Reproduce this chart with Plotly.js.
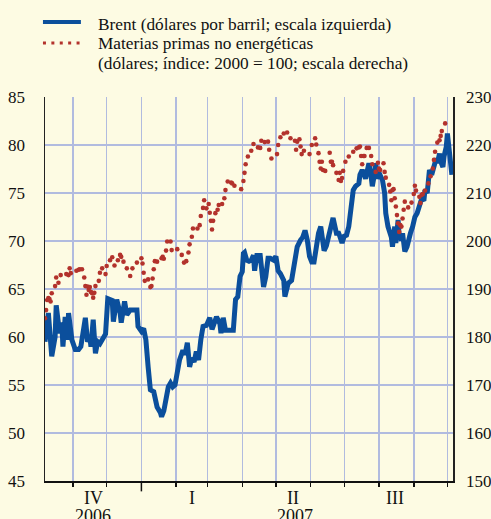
<!DOCTYPE html>
<html><head><meta charset="utf-8">
<script src="https://cdn.plot.ly/plotly-3.0.1.min.js"></script>
<style>html,body{margin:0;padding:0;background:#fdfbe3;}#chart{width:491px;height:519px;}</style>
</head><body><div id="chart"></div>
<script>
const brentDates = ['2006-10-07','2006-10-10','2006-10-13','2006-10-16','2006-10-17','2006-10-20','2006-10-22','2006-10-23','2006-10-25','2006-10-27','2006-10-28','2006-10-31',
'2006-11-03','2006-11-06','2006-11-08','2006-11-10','2006-11-12','2006-11-14','2006-11-16','2006-11-17','2006-11-19','2006-11-21','2006-11-23','2006-11-25','2006-11-28','2006-11-30',
'2006-12-02','2006-12-06','2006-12-07','2006-12-10','2006-12-13','2006-12-14','2006-12-17','2006-12-19','2006-12-22','2006-12-28','2006-12-29',
'2007-01-01','2007-01-03','2007-01-05','2007-01-07','2007-01-09','2007-01-12','2007-01-13','2007-01-15','2007-01-18','2007-01-19','2007-01-21','2007-01-23','2007-01-25','2007-01-27','2007-01-29','2007-01-31',
'2007-02-02','2007-02-04','2007-02-07','2007-02-09','2007-02-11','2007-02-13','2007-02-15','2007-02-17','2007-02-19','2007-02-21','2007-02-23','2007-02-25','2007-02-28',
'2007-03-03','2007-03-05','2007-03-07','2007-03-09','2007-03-12','2007-03-13','2007-03-15','2007-03-17','2007-03-20','2007-03-23','2007-03-24','2007-03-26','2007-03-28','2007-03-30',
'2007-04-01','2007-04-02','2007-04-03','2007-04-05','2007-04-07','2007-04-09','2007-04-11','2007-04-12','2007-04-14','2007-04-17','2007-04-18','2007-04-20','2007-04-22','2007-04-24','2007-04-26','2007-04-29',
'2007-05-01','2007-05-03','2007-05-05','2007-05-08','2007-05-09','2007-05-12','2007-05-15','2007-05-18','2007-05-20','2007-05-23','2007-05-25','2007-05-27','2007-05-29','2007-05-31',
'2007-06-02','2007-06-04','2007-06-06','2007-06-08','2007-06-10','2007-06-12','2007-06-13','2007-06-15','2007-06-18','2007-06-20','2007-06-21','2007-06-24','2007-06-26','2007-06-27','2007-06-29',
'2007-07-01','2007-07-03','2007-07-05','2007-07-06','2007-07-08','2007-07-09','2007-07-11','2007-07-14','2007-07-15','2007-07-17','2007-07-20','2007-07-22','2007-07-23','2007-07-25','2007-07-26','2007-07-28','2007-07-29','2007-07-30',
'2007-08-01','2007-08-03','2007-08-04','2007-08-06','2007-08-07','2007-08-09','2007-08-10','2007-08-12','2007-08-13','2007-08-15','2007-08-16','2007-08-18','2007-08-19','2007-08-21','2007-08-22','2007-08-24','2007-08-26','2007-08-27','2007-08-29','2007-08-31',
'2007-09-02','2007-09-04','2007-09-06','2007-09-08','2007-09-10','2007-09-11','2007-09-13','2007-09-14','2007-09-15','2007-09-17','2007-09-19','2007-09-21','2007-09-22','2007-09-24','2007-09-25','2007-09-27','2007-09-28','2007-09-30',
'2007-10-01','2007-10-03','2007-10-04','2007-10-05'];
const brentValues = [59.5,62.5,58.0,60.0,63.3,60.4,61.5,59.0,62.1,59.7,62.5,59.7,
58.7,58.7,59.0,60.7,62.0,59.5,60.0,59.0,61.8,58.3,59.5,59.3,60.0,60.3,
64.0,63.8,61.6,63.9,62.5,61.5,63.7,62.3,62.8,62.8,61.1,
60.6,60.9,59.7,56.9,54.5,54.3,53.6,52.7,52.1,51.7,52.3,53.4,54.8,55.2,54.8,55.0,
56.6,57.6,58.6,58.2,59.4,56.9,57.8,57.4,58.5,57.6,59.7,61.1,61.2,
62.0,60.8,61.5,62.1,61.4,60.4,62.0,60.7,60.7,60.6,60.7,63.9,64.2,66.3,
66.8,68.7,68.8,68.0,67.9,68.0,68.5,66.9,68.5,68.5,67.3,65.2,66.3,68.2,68.2,68.0,
68.4,66.9,66.6,65.9,64.2,65.6,65.9,68.0,69.4,70.1,70.4,71.1,70.1,68.4,
67.8,67.8,69.8,70.8,71.5,69.1,69.0,69.5,71.1,71.8,72.4,70.8,70.8,70.5,69.8,
70.5,70.6,71.5,72.7,74.3,75.3,75.7,76.0,76.9,77.4,76.5,77.7,78.1,76.7,75.7,77.0,78.1,76.5,
77.1,76.6,76.4,75.0,72.9,71.5,71.2,70.4,69.4,71.5,69.8,72.2,70.5,70.1,70.8,68.9,69.4,70.1,70.8,71.5,
72.5,72.9,73.6,74.4,74.2,75.3,75.0,76.4,77.4,76.9,77.7,78.6,78.1,79.1,78.3,77.7,78.8,79.8,
81.2,78.8,77.1,76.9];

const commodityDates = ['2006-10-07','2006-10-08','2006-10-09','2006-10-10','2006-10-11','2006-10-12','2006-10-13','2006-10-16','2006-10-17','2006-10-19','2006-10-21','2006-10-26','2006-10-28','2006-10-29','2006-10-30',
'2006-11-04','2006-11-06','2006-11-07','2006-11-09','2006-11-11','2006-11-12','2006-11-13','2006-11-14','2006-11-15','2006-11-16','2006-11-17','2006-11-18','2006-11-19','2006-11-20','2006-11-21','2006-11-24','2006-11-25','2006-11-27','2006-11-30',
'2006-12-01','2006-12-04','2006-12-06','2006-12-08','2006-12-11','2006-12-13','2006-12-14','2006-12-16','2006-12-19','2006-12-22','2006-12-24','2006-12-28',
'2007-01-01','2007-01-02','2007-01-03','2007-01-04','2007-01-07','2007-01-09','2007-01-10','2007-01-11','2007-01-12','2007-01-13','2007-01-15','2007-01-19','2007-01-20','2007-01-21','2007-01-23','2007-01-24','2007-01-27','2007-01-28',
'2007-02-02','2007-02-06','2007-02-08','2007-02-10','2007-02-12','2007-02-13','2007-02-15','2007-02-16','2007-02-20','2007-02-22','2007-02-23','2007-02-25','2007-02-26','2007-02-28',
'2007-03-02','2007-03-03','2007-03-04','2007-03-05','2007-03-06','2007-03-08','2007-03-10','2007-03-11','2007-03-14','2007-03-16','2007-03-17','2007-03-19','2007-03-22','2007-03-23','2007-03-25','2007-03-31',
'2007-04-02','2007-04-03','2007-04-04','2007-04-06','2007-04-09','2007-04-11','2007-04-15','2007-04-17','2007-04-18','2007-04-21','2007-04-24','2007-04-25','2007-04-27',
'2007-05-02','2007-05-03','2007-05-05','2007-05-08','2007-05-11','2007-05-14','2007-05-18','2007-05-19','2007-05-20','2007-05-22','2007-05-23','2007-05-24','2007-05-26','2007-05-31',
'2007-06-02','2007-06-05','2007-06-06','2007-06-08','2007-06-09','2007-06-10','2007-06-11','2007-06-12','2007-06-14','2007-06-18','2007-06-19','2007-06-20','2007-06-21','2007-06-24','2007-06-26','2007-06-27','2007-06-28','2007-06-29','2007-06-30',
'2007-07-02','2007-07-05','2007-07-09','2007-07-12','2007-07-14','2007-07-15','2007-07-16','2007-07-17','2007-07-18','2007-07-19','2007-07-21','2007-07-23','2007-07-25','2007-07-26','2007-07-29','2007-07-31',
'2007-08-01','2007-08-02','2007-08-05','2007-08-06','2007-08-07','2007-08-10','2007-08-11','2007-08-12','2007-08-13','2007-08-14','2007-08-15','2007-08-16','2007-08-17','2007-08-18','2007-08-19','2007-08-20','2007-08-21','2007-08-22','2007-08-23','2007-08-24','2007-08-27','2007-08-30',
'2007-09-01','2007-09-02','2007-09-03','2007-09-06','2007-09-07','2007-09-08','2007-09-09','2007-09-11','2007-09-14','2007-09-16','2007-09-18','2007-09-19','2007-09-20','2007-09-22','2007-09-24','2007-09-25','2007-09-26','2007-09-29'];
const commodityValues = [183.9,185.6,187.7,188.1,187.9,187.4,189.1,190.6,192.4,191.3,192.9,193.1,192.9,194.3,193.3,
193.8,194.0,194.1,194.1,192.4,190.6,188.8,190.5,189.8,190.4,189.4,189.1,188.2,189.2,190.6,191.7,193.4,194.3,193.1,
194.8,196.0,196.6,194.9,196.0,197.1,196.7,195.7,194.3,192.7,194.3,195.5,
196.4,195.3,193.4,191.7,192.0,190.4,190.6,192.2,194.1,195.8,195.7,196.4,196.7,196.3,198.0,199.9,199.9,198.1,
198.3,197.1,195.5,195.8,197.6,199.3,200.9,202.6,202.6,203.3,205.2,206.9,208.5,206.8,
207.7,205.9,204.2,202.4,204.2,205.8,206.5,207.5,207.7,208.9,210.6,212.4,212.2,212.0,211.5,210.8,
212.5,214.2,216.0,217.6,218.8,220.2,219.5,219.4,220.9,220.6,220.7,219.0,217.2,
218.1,220.0,221.6,222.4,222.6,221.4,220.9,219.0,220.7,221.2,219.7,218.1,218.8,218.1,
220.0,221.4,220.1,218.3,216.5,215.1,216.5,214.8,214.6,218.4,216.5,216.5,215.8,214.2,212.7,214.2,212.5,213.1,214.6,
216.5,217.6,218.6,219.3,219.5,219.7,217.7,216.0,217.7,217.7,219.4,219.4,217.7,216.0,214.4,216.3,
215.1,214.8,216.2,214.4,213.2,211.7,210.3,208.5,210.6,210.8,208.9,207.2,205.4,203.7,201.9,203.3,203.0,204.7,206.5,208.2,207.0,208.0,
209.8,211.5,210.5,209.2,207.9,209.6,209.8,210.5,212.0,213.5,215.1,216.9,218.6,220.5,221.0,221.9,222.9,224.5];

const monthStarts = ['2006-11-01','2006-12-01','2007-01-01','2007-02-01','2007-03-01','2007-04-01','2007-05-01','2007-06-01','2007-07-01','2007-08-01','2007-09-01','2007-10-01'];
const quarterLabels = ['IV','I','II','III'];
const quarterCenters = ['2006-11-19','2007-02-15','2007-05-16','2007-08-15'];
const yearLabels = ['2006','2007'];
const yearCenters = ['2006-11-19','2007-05-18'];
const legendLabels = ['Brent (dólares por barril; escala izquierda)','Materias primas no energéticas','(dólares; índice: 2000 = 100; escala derecha)'];
const xRange = ['2006-10-07','2007-10-06'];
const leftRange = [45,85];
const rightRange = [150,230];

const BLUE = '#0b4f9c', RED = '#b3322c', GRID = '#b1bbdf', BG = '#fdfbe3';
const FONT = 'Liberation Serif, Times New Roman, serif';

const traces = [
  {x: brentDates, y: brentValues, type:'scatter', mode:'lines', yaxis:'y',
   line:{color:BLUE, width:5}, hoverinfo:'skip', showlegend:false},
  {x: commodityDates, y: commodityValues, type:'scatter', mode:'markers', yaxis:'y2',
   marker:{color:RED, size:4.6}, hoverinfo:'skip', showlegend:false}
];

const annotations = [];
quarterLabels.forEach((t,i)=>annotations.push({xref:'x', yref:'paper', x:quarterCenters[i], y:-0.043, text:t, showarrow:false, xanchor:'center', yanchor:'middle', font:{family:FONT, size:18, color:'#111'}}));
yearLabels.forEach((t,i)=>annotations.push({xref:'x', yref:'paper', x:yearCenters[i], y:-0.092, text:t, showarrow:false, xanchor:'center', yanchor:'middle', font:{family:FONT, size:18, color:'#111'}}));
const legY = [1.1901, 1.1393, 1.0885];
legendLabels.forEach((t,i)=>annotations.push({xref:'paper', yref:'paper', x:0.124, y:legY[i], text:t, showarrow:false, xanchor:'left', yanchor:'middle', font:{family:FONT, size:17.3, color:'#111'}}));

const sampleY = [1.1953, 1.1406];
const shapes = [
  {type:'line', xref:'paper', yref:'paper', x0:-0.005, x1:0.088, y0:sampleY[0], y1:sampleY[0], line:{color:BLUE, width:4}},
  {type:'line', xref:'paper', yref:'paper', x0:-0.005, x1:0.088, y0:sampleY[1], y1:sampleY[1], line:{color:RED, width:3, dash:'3px,5.4px'}},
  {type:'line', xref:'x', yref:'paper', x0:'2007-01-01', x1:'2007-01-01', y0:0, y1:-0.027, line:{color:'#111', width:1.5}}
];

const layout = {
  width:491, height:519,
  margin:{l:45, r:38, t:97, b:38},
  paper_bgcolor:BG, plot_bgcolor:BG,
  showlegend:false,
  xaxis:{type:'date', range:xRange, tickvals:monthStarts, ticktext:monthStarts.map(()=>''),
    showgrid:true, gridcolor:GRID, gridwidth:1.5, showline:true, linecolor:'#111', linewidth:1.5,
    ticks:'outside', ticklen:4, tickwidth:1.5, tickcolor:'#111', zeroline:false, fixedrange:true},
  yaxis:{range:leftRange, dtick:5, tick0:45, showgrid:true, gridcolor:GRID, gridwidth:1.5,
    showline:true, linecolor:'#222', linewidth:1.5, zeroline:false,
    ticks:'outside', ticklen:15, tickcolor:'rgba(0,0,0,0)',
    tickfont:{family:FONT, size:17, color:'#111'}},
  yaxis2:{range:rightRange, dtick:10, tick0:150, overlaying:'y', side:'right', showgrid:false,
    showline:true, linecolor:'#222', linewidth:1.5, zeroline:false,
    ticks:'outside', ticklen:8, tickcolor:'rgba(0,0,0,0)',
    tickfont:{family:FONT, size:17, color:'#111'}},
  annotations: annotations,
  shapes: shapes
};

Plotly.newPlot('chart', traces, layout, {staticPlot:true, displayModeBar:false});
</script>
</body></html>
